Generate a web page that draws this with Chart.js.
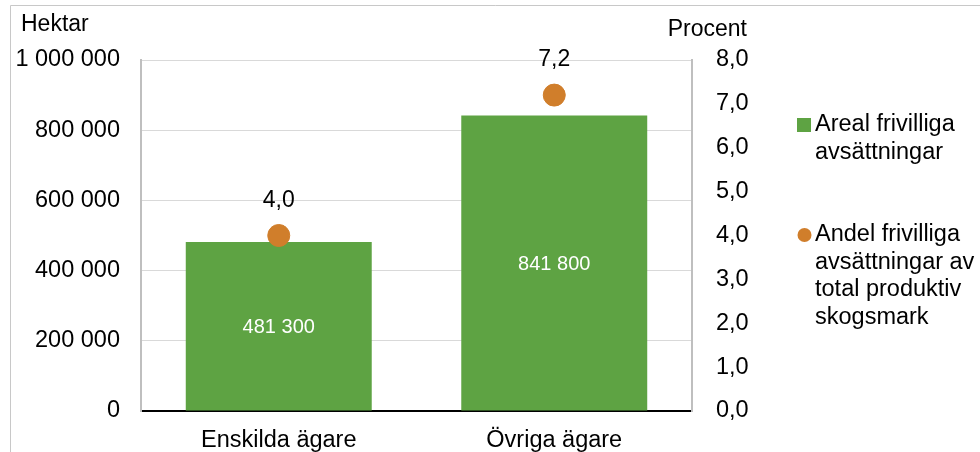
<!DOCTYPE html>
<html>
<head>
<meta charset="utf-8">
<script src="https://cdn.jsdelivr.net/npm/chart.js@4"></script>
<style>
  html, body { margin: 0; padding: 0; background: #fff; }
  #wrap { width: 980px; height: 452px; position: relative; }
</style>
</head>
<body>
<div id="wrap"><canvas id="chart" width="980" height="452"></canvas></div>
<script>
// data
const categories = ["Enskilda ägare", "Övriga ägare"];
const arealValues = [481300, 841800];       // hektar
const andelValues = [4.0, 7.2];             // procent
const arealLabel = ["Areal frivilliga", "avsättningar"];
const andelLabel = ["Andel frivilliga", "avsättningar av", "total produktiv", "skogsmark"];

const GREEN = "#5ea343";
const ORANGE = "#d07e2b";
const FONT = "'Liberation Sans', Arial, sans-serif";
const SIZE = 23.5;

function spaced(n) {
	return String(n).replace(/\B(?=(\d{3})+(?!\d))/g, " ");
}
function comma(v) {
	return v.toFixed(1).replace(".", ",");
}

//draws frame, axis titles, value labels and the wrapped legend
const extras = {
	id: "extras",
	beforeDraw(chart) {
		let ctx = chart.ctx;
		ctx.save();
		ctx.strokeStyle = "#c8c8c8";
		ctx.lineWidth = 1;
		ctx.beginPath();
		ctx.moveTo(10.5, 452);
		ctx.lineTo(10.5, 5.5);
		ctx.lineTo(980, 5.5);
		ctx.stroke();
		ctx.restore();
	},
	afterDraw(chart) {
		let ctx = chart.ctx;
		ctx.save();
		ctx.fillStyle = "#000";
		ctx.font = "23px " + FONT;
		ctx.textBaseline = "middle";
		ctx.textAlign = "left";
		ctx.fillText("Hektar", 21, 25);
		ctx.textAlign = "right";
		ctx.fillText("Procent", 747, 30);

		//value labels over the points
		ctx.textAlign = "center";
		chart.getDatasetMeta(1).data.forEach((pt, i) => {
			ctx.fillText(comma(andelValues[i]), pt.x, pt.y - 35);
		});
		//value labels inside the bars
		ctx.fillStyle = "#fff";
		ctx.font = "20px " + FONT;
		chart.getDatasetMeta(0).data.forEach((bar, i) => {
			ctx.fillText(spaced(arealValues[i]), bar.x, (bar.y + bar.base) / 2 + 1);
		});

		//legend
		ctx.textAlign = "left";
		ctx.font = SIZE + "px " + FONT;
		ctx.fillStyle = GREEN;
		ctx.fillRect(797, 118, 14, 14);
		ctx.fillStyle = "#000";
		arealLabel.forEach((t, i) => ctx.fillText(t, 815, 125 + i * 28));
		ctx.fillStyle = ORANGE;
		ctx.beginPath();
		ctx.arc(804.5, 235, 7, 0, Math.PI * 2);
		ctx.fill();
		ctx.fillStyle = "#000";
		andelLabel.forEach((t, i) => ctx.fillText(t, 815, 235 + i * 27.5));
		ctx.restore();
	},
};

new Chart(document.getElementById("chart"), {
	data: {
		labels: categories,
		datasets: [
			{
				type: "bar",
				label: arealLabel.join(" "),
				data: arealValues,
				backgroundColor: GREEN,
				yAxisID: "y",
				categoryPercentage: 1,
				barPercentage: 0.675,
				order: 2,
			},
			{
				type: "line",
				label: andelLabel.join(" "),
				data: andelValues,
				showLine: false,
				pointRadius: 11,
				pointHoverRadius: 11,
				pointBackgroundColor: ORANGE,
				pointBorderColor: ORANGE,
				yAxisID: "y1",
				order: 1,
			},
		],
	},
	options: {
		responsive: false,
		animation: false,
		layout: { padding: { top: 60, right: 208, bottom: 0, left: 0 } },
		plugins: { legend: { display: false }, tooltip: { enabled: false } },
		scales: {
			x: {
				offset: true,
				grid: { display: false, drawTicks: false },
				border: { color: "#000", width: 2 },
				ticks: { color: "#000", font: { size: SIZE, family: FONT }, padding: 15 },
				afterFit(scale) { scale.height = 41; },
			},
			y: {
				position: "left",
				min: 0,
				max: 1000000,
				grid: { color: "#d9d9d9", drawTicks: false },
				border: { color: "#bfbfbf", width: 2 },
				ticks: {
					stepSize: 200000,
					color: "#000",
					font: { size: SIZE, family: FONT },
					padding: 21,
					callback: (v) => spaced(v),
				},
				afterFit(scale) { scale.width = 141; },
			},
			y1: {
				position: "right",
				min: 0,
				max: 8,
				grid: { display: false, drawTicks: false },
				border: { color: "#bfbfbf", width: 2 },
				ticks: {
					stepSize: 1,
					color: "#000",
					font: { size: SIZE, family: FONT },
					padding: 24,
					callback: (v) => comma(v),
				},
				afterFit(scale) { scale.width = 80; },
			},
		},
	},
	plugins: [extras],
});
</script>
</body>
</html>
